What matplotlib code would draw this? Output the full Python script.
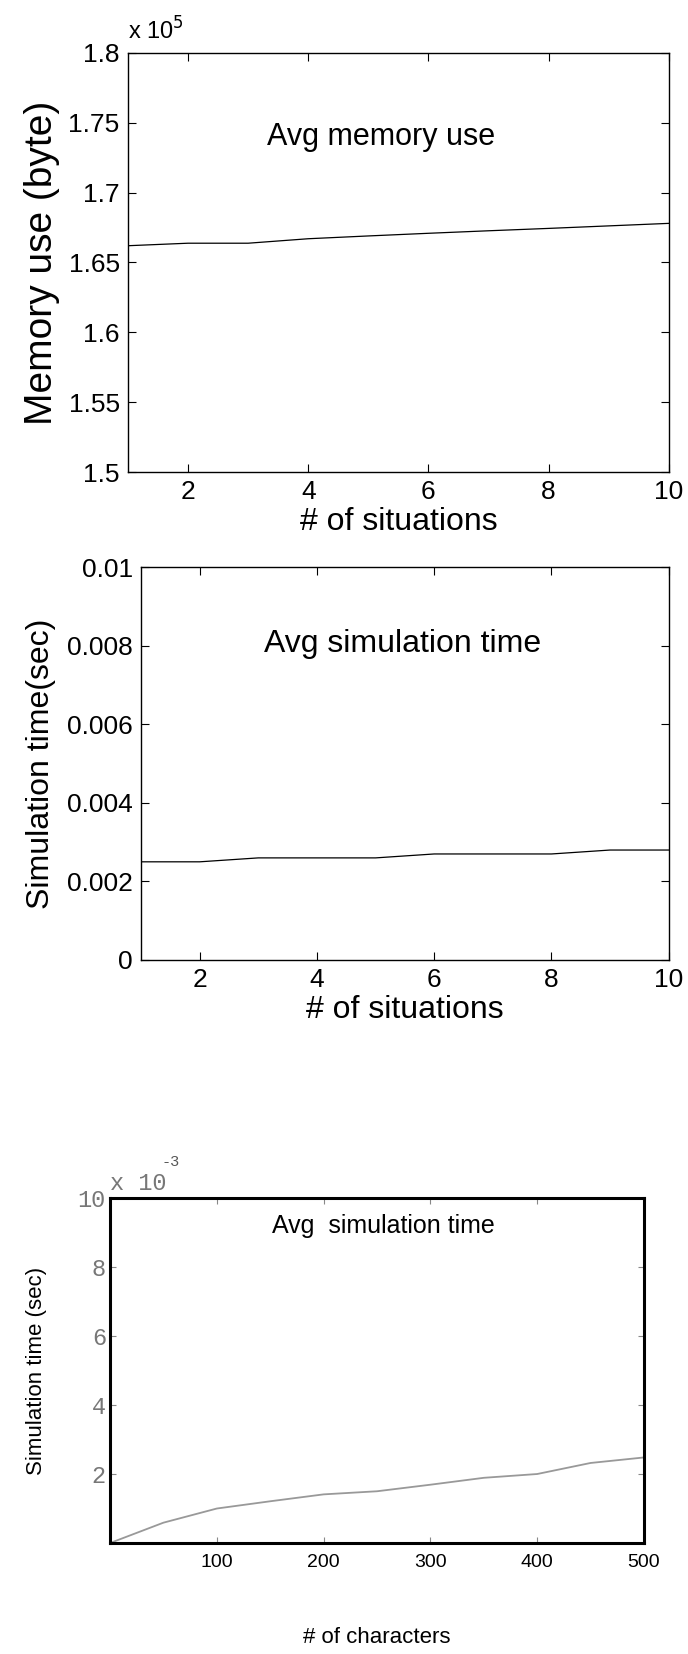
import numpy as np
import matplotlib.pyplot as plt
from matplotlib.ticker import FuncFormatter

# data
situations = [1, 2, 3, 4, 5, 6, 7, 8, 9, 10]
memory_use = [166200, 166380, 166380, 166700, 166900, 167090, 167270, 167440, 167620, 167800]  # bytes
sim_time = [0.0025, 0.0025, 0.0026, 0.0026, 0.0026, 0.0027, 0.0027, 0.0027, 0.0028, 0.0028]  # sec

characters = [0, 50, 100, 150, 200, 250, 300, 350, 400, 450, 500]
char_time = [0.0e-3, 0.59e-3, 1.0e-3, 1.21e-3, 1.41e-3, 1.5e-3, 1.69e-3, 1.89e-3, 2.0e-3, 2.32e-3, 2.48e-3]  # sec

sans = ['Liberation Sans', 'DejaVu Sans']
mono = ['Liberation Mono', 'DejaVu Sans Mono']

fig = plt.figure(figsize=(6.88, 16.54), dpi=100)

def matlab_style(ax):
    ax.tick_params(direction='in', top=True, right=True, length=6, width=0.8, labelsize=19, pad=6)
    for lab in ax.get_xticklabels() + ax.get_yticklabels():
        lab.set_family(sans)
    for sp in ax.spines.values():
        sp.set_linewidth(1.0)

# panel 1 - memory use
ax1 = fig.add_axes([0.186, 0.7146, 0.786, 0.2534])
ax1.plot(situations, memory_use, color='black', lw=0.9)
ax1.set_xlim(1, 10)
ax1.set_ylim(1.5e5, 1.8e5)
ax1.set_xticks([2, 4, 6, 8, 10])
ax1.set_yticks(np.arange(1.5e5, 1.8e5 + 1, 0.05e5))
ax1.yaxis.set_major_formatter(FuncFormatter(lambda v, p: '%g' % round(v / 1e5, 2)))
matlab_style(ax1)
ax1.set_xlabel('# of situations', fontsize=23, family=sans, labelpad=2)
ax1.set_ylabel('Memory use (byte)', fontsize=28, family=sans, labelpad=6)
ax1.text(0.0, 1.02, 'x 10$^5$', transform=ax1.transAxes, fontsize=17, family=sans, va='bottom', ha='left')
ax1.text(0.468, 0.80, 'Avg memory use', transform=ax1.transAxes, fontsize=22, family=sans, ha='center', va='center')

# panel 2 - simulation time vs situations
ax2 = fig.add_axes([0.205, 0.4196, 0.767, 0.2374])
ax2.plot(situations, sim_time, color='black', lw=0.9)
ax2.set_xlim(1, 10)
ax2.set_ylim(0, 0.01)
ax2.set_xticks([2, 4, 6, 8, 10])
ax2.set_yticks([0, 0.002, 0.004, 0.006, 0.008, 0.01])
ax2.yaxis.set_major_formatter(FuncFormatter(lambda v, p: '%g' % round(v, 4)))
matlab_style(ax2)
ax2.set_xlabel('# of situations', fontsize=23, family=sans, labelpad=2)
ax2.set_ylabel('Simulation time(sec)', fontsize=23, family=sans, labelpad=8)
ax2.text(0.496, 0.804, 'Avg simulation time', transform=ax2.transAxes, fontsize=23, family=sans, ha='center', va='center')

# panel 3 - simulation time vs characters
ax3 = fig.add_axes([0.160, 0.0671, 0.776, 0.2086])
ax3.plot(characters, char_time, color='#999999', lw=1.3)
ax3.set_xlim(0, 500)
ax3.set_ylim(0, 10e-3)
ax3.set_xticks([100, 200, 300, 400, 500])
ax3.set_yticks([2e-3, 4e-3, 6e-3, 8e-3, 10e-3])
ax3.yaxis.set_major_formatter(FuncFormatter(lambda v, p: '%g' % round(v * 1e3, 2)))
ax3.tick_params(direction='in', top=True, right=True, length=4, width=0.8, color='#888888')
ax3.tick_params(axis='x', labelsize=14, pad=8)
ax3.tick_params(axis='y', labelsize=17, pad=3, labelcolor='#777777')
for lab in ax3.get_xticklabels():
    lab.set_family(sans)
for lab in ax3.get_yticklabels():
    lab.set_family(mono)
for sp in ax3.spines.values():
    sp.set_linewidth(2.2)
ax3.set_xlabel('# of characters', fontsize=16, family=sans, labelpad=40)
ax3.set_ylabel('Simulation time (sec)', fontsize=16, family=sans, labelpad=22)
ax3.text(0.0, 1.01, 'x 10', transform=ax3.transAxes, fontsize=17, family=mono,
         color='#777777', ha='left', va='bottom')
ax3.text(0.097, 1.085, '-3', transform=ax3.transAxes, fontsize=11, family=mono,
         color='#555555', ha='left', va='bottom')
ax3.text(0.512, 0.92, 'Avg  simulation time', transform=ax3.transAxes, fontsize=18, family=sans, ha='center', va='center')

fig.savefig('out.png', dpi=100)
